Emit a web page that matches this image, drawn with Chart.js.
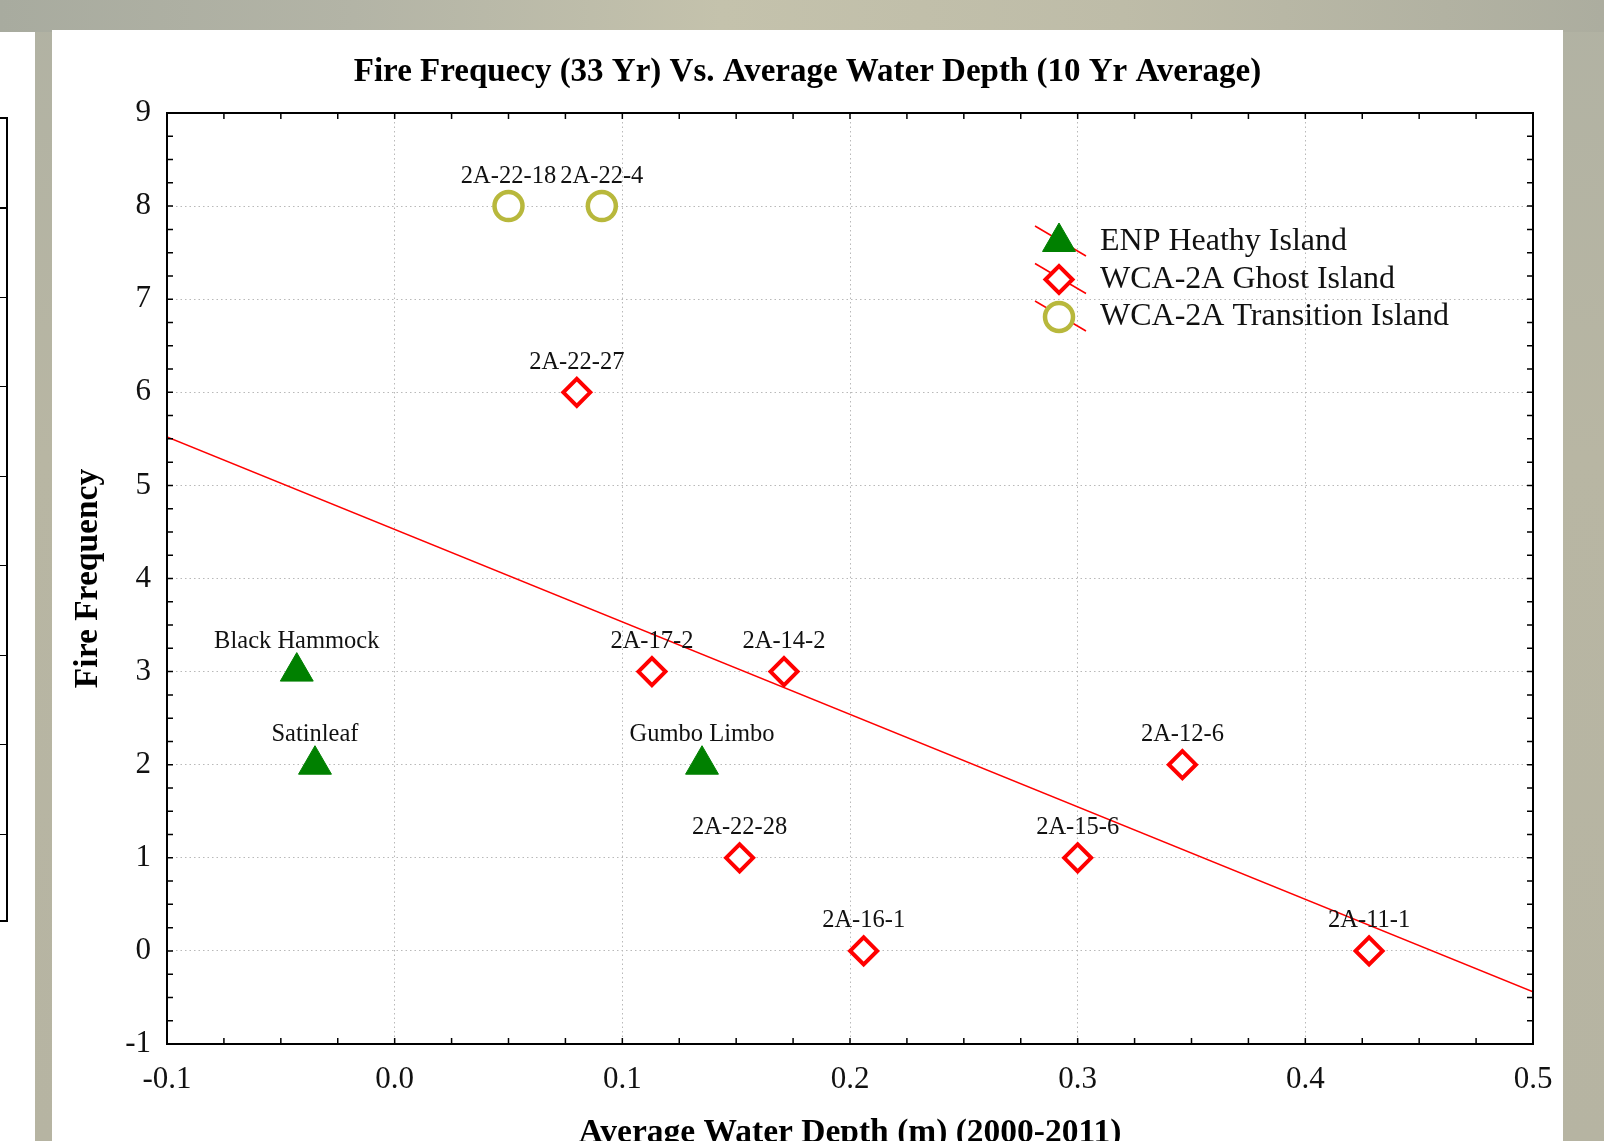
<!DOCTYPE html>
<html>
<head>
<meta charset="utf-8">
<script src="https://cdn.jsdelivr.net/npm/chart.js@4.4.1/dist/chart.umd.min.js"></script>
<style>
  html, body { margin: 0; padding: 0; }
  body {
    width: 1604px; height: 1141px; overflow: hidden; position: relative;
    background: linear-gradient(180deg, #b1b2a3 0%, #b8b6a3 40%, #b6b4a2 100%);
  }
  #bandeau {
    position: absolute; left: 0; top: 0; width: 1604px; height: 32px;
    background: linear-gradient(90deg, #a8ab9f 0%, #b3b4a6 22%, #c4c2ac 45%, #bebca8 70%, #acad9f 100%);
  }
  #panneauGauche { position: absolute; left: 0; top: 32px; width: 35px; height: 1109px; background: #fff; }
  #cadreGauche {
    position: absolute; left: 0; top: 117px; width: 6px; height: 801px;
    border-top: 2px solid #000; border-right: 2px solid #000; border-bottom: 2px solid #000;
    background: repeating-linear-gradient(to bottom, transparent 0, transparent 88px, #000 88px, #000 89.5px);
  }
  #panneau { position: absolute; left: 52px; top: 30px; width: 1511px; height: 1111px; background: #fff; overflow: hidden; }
  #panneau canvas { position: absolute; left: 0; top: 0; }
</style>
</head>
<body>
<div id="bandeau"></div>
<div id="panneauGauche"></div>
<div id="cadreGauche"></div>
<div id="panneau"><canvas id="fireChart" width="1511" height="1130"></canvas></div>
<script>
// Valeurs
const enpNames = ['Black Hammock', 'Satinleaf', 'Gumbo Limbo'];
const enpX = [-0.043, -0.035, 0.135];
const enpY = [3, 2, 2];

const ghostNames = ['2A-22-27', '2A-17-2', '2A-14-2', '2A-22-28', '2A-16-1', '2A-15-6', '2A-12-6', '2A-11-1'];
const ghostX = [0.080, 0.113, 0.171, 0.1515, 0.206, 0.300, 0.346, 0.428];
const ghostY = [6, 3, 3, 1, 0, 1, 2, 0];

const transNames = ['2A-22-18', '2A-22-4'];
const transX = [0.050, 0.091];
const transY = [8, 8];

// Droite de régression (extrémités)
const fitX = [-0.1, 0.5];
const fitY = [5.52, -0.44];

const xTickValues = [-0.1, 0, 0.1, 0.2, 0.3, 0.4, 0.5];
const xTickLabels = ['-0.1', '0.0', '0.1', '0.2', '0.3', '0.4', '0.5'];
const yTickValues = [-1, 0, 1, 2, 3, 4, 5, 6, 7, 8, 9];
const yTickLabels = ['-1', '0', '1', '2', '3', '4', '5', '6', '7', '8', '9'];

const SERIF = '"Liberation Serif", "Times New Roman", serif';

function toPoints(xs, ys) {
    return xs.map((x, i) => ({ x: x, y: ys[i] }));
}

// Cadre noir + petites graduations tournées vers l'intérieur
const cadrePlugin = {
    id: 'cadre',
    afterDraw(chart) {
        const { ctx, chartArea: a, scales } = chart;
        const x = scales.x, y = scales.y;
        ctx.save();
        ctx.strokeStyle = '#000';
        ctx.lineWidth = 1.5;
        ctx.beginPath();
        const nx = Math.round((x.max - x.min) / 0.025);
        for (let i = 0; i <= nx; i++) {
            const px = x.getPixelForValue(x.min + i * 0.025);
            ctx.moveTo(px, a.top); ctx.lineTo(px, a.top + 6);
            ctx.moveTo(px, a.bottom); ctx.lineTo(px, a.bottom - 6);
        }
        const ny = Math.round((y.max - y.min) / 0.25);
        for (let i = 0; i <= ny; i++) {
            const py = y.getPixelForValue(y.min + i * 0.25);
            ctx.moveTo(a.left, py); ctx.lineTo(a.left + 6, py);
            ctx.moveTo(a.right, py); ctx.lineTo(a.right - 6, py);
        }
        ctx.stroke();
        ctx.lineWidth = 2;
        ctx.strokeRect(a.left, a.top, a.right - a.left, a.bottom - a.top);
        ctx.restore();
    }
};

// Étiquettes au-dessus des points
const etiquettesPlugin = {
    id: 'etiquettes',
    afterDatasetsDraw(chart) {
        const ctx = chart.ctx;
        ctx.save();
        ctx.font = '24.5px ' + SERIF;
        ctx.fillStyle = '#111';
        ctx.textAlign = 'center';
        ctx.textBaseline = 'middle';
        chart.data.datasets.forEach((ds, di) => {
            if (!ds.names) return;
            chart.getDatasetMeta(di).data.forEach((pt, i) => {
                ctx.fillText(ds.names[i], pt.x, pt.y - 30);
            });
        });
        ctx.restore();
    }
};

// Légende dans le coin haut-droit, avec le trait rouge de la régression
const legendePlugin = {
    id: 'legende',
    afterDraw(chart) {
        const ctx = chart.ctx;
        const a = chart.chartArea;
        const x0 = a.left + 892;
        const y0 = a.top + 129;
        ctx.save();
        chart.data.datasets.forEach((ds, di) => {
            if (!ds.names) return;
            const cy = y0 + di * 37.5;
            ctx.strokeStyle = '#ff0000';
            ctx.lineWidth = 1.5;
            ctx.beginPath();
            ctx.moveTo(x0 - 24, cy - 16);
            ctx.lineTo(x0 + 27, cy + 14);
            ctx.stroke();
            ctx.fillStyle = ds.backgroundColor;
            ctx.strokeStyle = ds.borderColor;
            ctx.lineWidth = ds.borderWidth;
            Chart.helpers.drawPoint(ctx, {
                pointStyle: ds.pointStyle,
                radius: ds.pointRadius,
                borderWidth: ds.borderWidth,
                rotation: 0
            }, x0, cy);
            ctx.fillStyle = '#111';
            ctx.font = '32px ' + SERIF;
            ctx.textAlign = 'left';
            ctx.textBaseline = 'middle';
            ctx.fillText(ds.label, x0 + 41, cy);
        });
        ctx.restore();
    }
};

const ctx = document.getElementById('fireChart').getContext('2d');
new Chart(ctx, {
    type: 'scatter',
    data: {
        datasets: [
            {
                label: 'ENP Heathy Island',
                names: enpNames,
                data: toPoints(enpX, enpY),
                pointStyle: 'triangle',
                pointRadius: 19,
                backgroundColor: '#008000',
                borderColor: '#008000',
                borderWidth: 1,
                order: 1
            },
            {
                label: 'WCA-2A Ghost Island',
                names: ghostNames,
                data: toPoints(ghostX, ghostY),
                pointStyle: 'rectRot',
                pointRadius: 13.5,
                backgroundColor: '#ffffff',
                borderColor: '#ff0000',
                borderWidth: 4,
                order: 1
            },
            {
                label: 'WCA-2A Transition Island',
                names: transNames,
                data: toPoints(transX, transY),
                pointStyle: 'circle',
                pointRadius: 14,
                backgroundColor: '#ffffff',
                borderColor: '#b8b83c',
                borderWidth: 4.5,
                order: 1
            },
            {
                type: 'line',
                label: 'Régression',
                data: toPoints(fitX, fitY),
                borderColor: '#ff0000',
                borderWidth: 1.5,
                pointRadius: 0,
                fill: false,
                order: 5
            }
        ]
    },
    options: {
        responsive: false,
        animation: false,
        events: [],
        layout: { padding: { left: 30, right: 30, top: 0, bottom: 0 } },
        plugins: {
            legend: { display: false },
            tooltip: { enabled: false },
            title: {
                display: true,
                text: 'Fire Frequecy (33 Yr) Vs. Average Water Depth (10 Yr Average)',
                color: '#000',
                font: { family: SERIF, size: 33, weight: 'bold' },
                padding: { top: 23, bottom: 20.4 }
            }
        },
        scales: {
            x: {
                type: 'linear',
                min: -0.1,
                max: 0.5,
                afterBuildTicks: (scale) => { scale.ticks = xTickValues.map(v => ({ value: v })); },
                afterFit: (scale) => {
                    scale.height = 116;
                    // les étiquettes extrêmes ne doivent pas rétrécir la zone du graphique
                    scale.paddingLeft = 0;
                    scale.paddingRight = 0;
                },
                ticks: {
                    callback: (v, i) => xTickLabels[i],
                    color: '#111',
                    font: { family: SERIF, size: 31 },
                    padding: 17,
                    maxRotation: 0,
                    autoSkip: false
                },
                grid: { color: '#b9b9b9', lineWidth: 1, drawTicks: false },
                border: { display: false, dash: [1.5, 3] },
                title: {
                    display: true,
                    text: 'Average Water Depth (m) (2000-2011)',
                    color: '#000',
                    font: { family: SERIF, size: 33.5, weight: 'bold' },
                    padding: { top: 0, bottom: 7 }
                }
            },
            y: {
                type: 'linear',
                min: -1,
                max: 9,
                afterBuildTicks: (scale) => { scale.ticks = yTickValues.map(v => ({ value: v })); },
                afterFit: (scale) => { scale.width = 85; },
                ticks: {
                    callback: (v, i) => yTickLabels[i],
                    color: '#111',
                    font: { family: SERIF, size: 31 },
                    padding: 16,
                    autoSkip: false
                },
                grid: { color: '#b9b9b9', lineWidth: 1, drawTicks: false },
                border: { display: false, dash: [1.5, 3] },
                title: {
                    display: true,
                    text: 'Fire Frequency',
                    color: '#000',
                    font: { family: SERIF, size: 33.5, weight: 'bold' },
                    padding: { top: -13.5, bottom: 0 }
                }
            }
        }
    },
    plugins: [cadrePlugin, etiquettesPlugin, legendePlugin]
});
</script>
</body>
</html>
